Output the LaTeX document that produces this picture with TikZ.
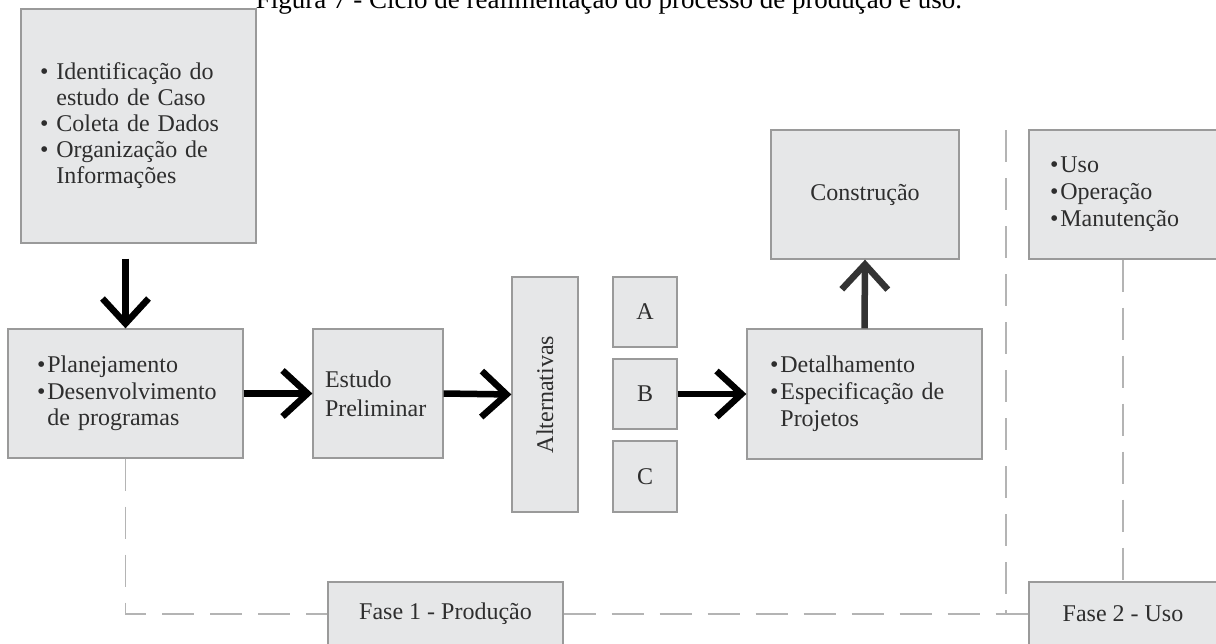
\documentclass[tikz,border=0pt]{standalone}
\usepackage{fontspec}
\setmainfont{Liberation Serif}
\newfontfamily\garfont{Liberation Serif}
\usetikzlibrary{arrows.meta}
\definecolor{boxfill}{HTML}{E6E7E8}
\definecolor{boxline}{HTML}{9A9A9A}
\definecolor{txt}{HTML}{2E2E2E}
\definecolor{dashc}{HTML}{B4B4B4}
\definecolor{uparrow}{HTML}{333333}
\begin{document}
\begin{tikzpicture}[x=1pt,y=-1pt,
  box/.style={draw=boxline, fill=boxfill, line width=1.3pt, inner sep=0pt, text=txt,
    font=\garfont\fontsize{24}{26}\selectfont},
  bigarrow/.style={line width=6.5pt, -{Straight Barb[length=25pt,width=46pt]}},
  dashline/.style={draw=dashc, line width=1.4pt, dash pattern=on 32pt off 16pt},
]
\clip (0,0) rectangle (1216,643);
\useasboundingbox (0,0) rectangle (1216,643);

% caption (cut off at the top in the reference)
\node[anchor=base, font=\fontsize{27}{30}\selectfont, text=black, inner sep=0pt] (cap) at (609,8)
  {Figura 7 - Ciclo de realimentação do processo de produção e uso.};

% phase boxes
\node[box, minimum width=235, minimum height=64] (fase1) at (445.5,614) {Fase 1 - Produção};
\node[box, minimum width=188, minimum height=64] (fase2) at (1123,614) {Fase 2 - Uso};

\node[box, minimum width=235, minimum height=234, text width=197, inner xsep=19, align=left] (b1) at (138.5,126)
  {\mbox{\textbullet\ Identificação do}\\
   \mbox{\phantom{\textbullet\ }estudo de Caso}\\
   \mbox{\textbullet\ Coleta de Dados}\\
   \mbox{\textbullet\ Organização de}\\
   \mbox{\phantom{\textbullet\ }Informações}};

\node[box, minimum width=235, minimum height=129, text width=177, inner xsep=29, align=left,
  font=\garfont\fontsize{24}{26.5}\selectfont] (b2) at (125.5,393.5)
  {\mbox{\textbullet\kern2pt Planejamento}\\
   \mbox{\textbullet\kern2pt Desenvolvimento}\\
   \mbox{\phantom{\textbullet\kern2pt}de programas}};

\node[box, minimum width=130, minimum height=129, text width=106, inner xsep=12, align=left,
  font=\garfont\fontsize{24}{29}\selectfont] (est) at (378,393.5)
  {Estudo\\Preliminar};

\node[box, rotate=90, minimum width=235, minimum height=66] (alt) at (545,394.5) {Alternativas};

\node[box, minimum width=64, minimum height=70] (alta) at (645,312) {A};
\node[box, minimum width=64, minimum height=70] (altb) at (645,394) {B};
\node[box, minimum width=64, minimum height=71] (altc) at (645,476.5) {C};

\node[box, minimum width=235, minimum height=130, text width=189, inner xsep=23, align=left,
  font=\garfont\fontsize{24}{27}\selectfont] (det) at (864.5,394)
  {\mbox{\textbullet\kern2pt Detalhamento}\\
   \mbox{\textbullet\kern2pt Especificação de}\\
   \mbox{\phantom{\textbullet\kern2pt}Projetos}};

\node[box, minimum width=188, minimum height=129] (con) at (865,194.5) {Construção};

\node[box, minimum width=188, minimum height=129, text width=146, inner xsep=21, align=left,
  font=\garfont\fontsize{24}{27}\selectfont] (uso) at (1123,194.5)
  {\mbox{\textbullet\kern2pt Uso}\\
   \mbox{\textbullet\kern2pt Operação}\\
   \mbox{\textbullet\kern2pt Manutenção}};

% dashed lines
\coordinate (dtop) at (1006,130);
\draw[dashline] (b2.south) |- (fase1.west);
\draw[dashline] (fase1.east) -- (fase2.west);
\draw[dashline] (dtop) -- (dtop |- fase2.west);
\draw[dashline] (uso.south) -- (fase2.north);

% arrows
\draw[bigarrow, shorten <=15pt] (b1.south -| b2.north) -- (b2.north);
\draw[bigarrow] (b2.east) -- (est.west);
\draw[bigarrow] (est.east) -- (alt.north);
\draw[bigarrow] (altb.east) -- (det.west);
\draw[bigarrow, draw=uparrow] (det.north) -- (con.south);
\end{tikzpicture}
\end{document}
